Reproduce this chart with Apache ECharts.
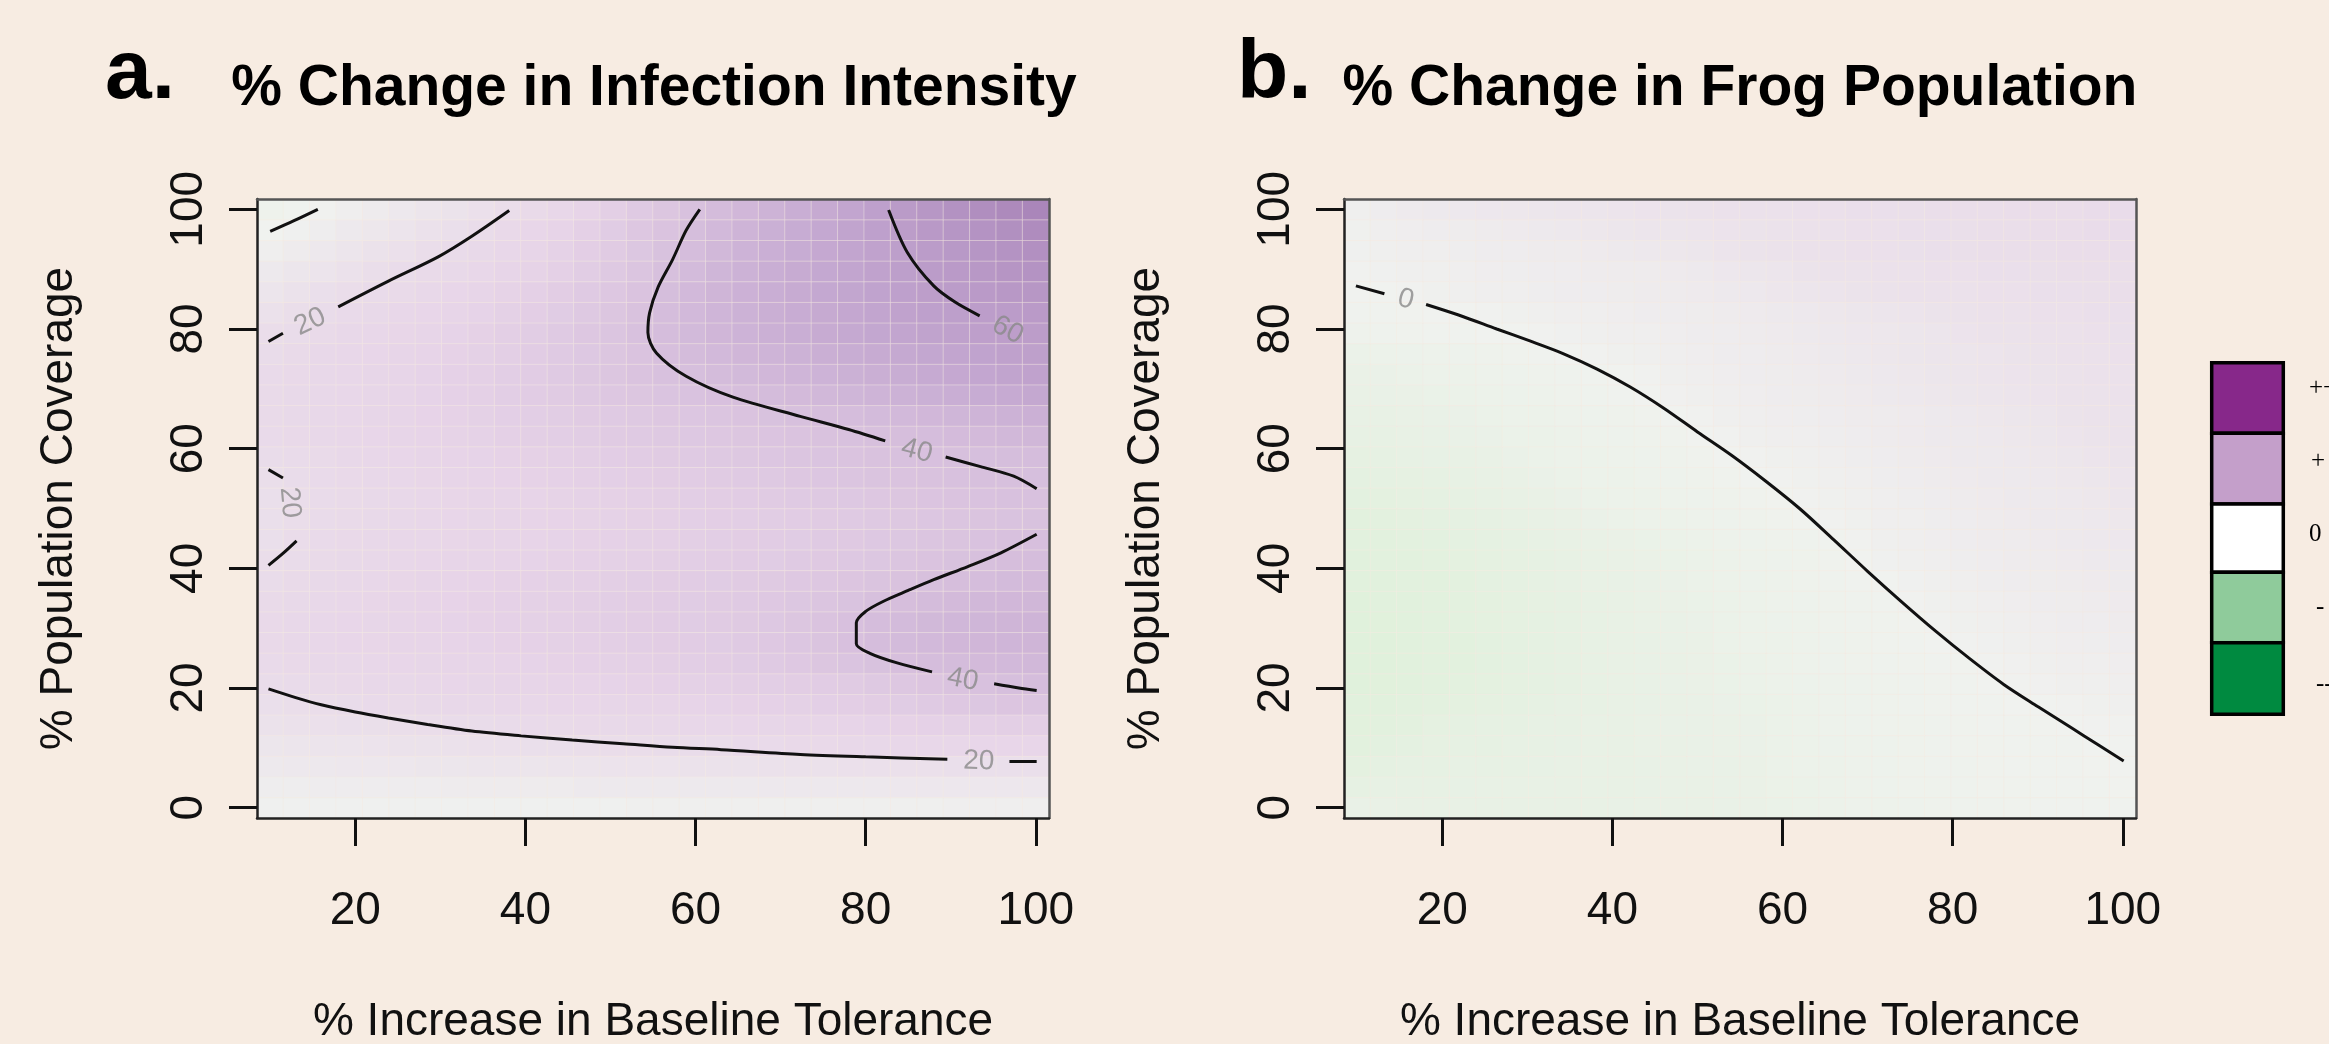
<!DOCTYPE html>
<html><head><meta charset="utf-8">
<script src="https://cdn.jsdelivr.net/npm/echarts@6.0.0/dist/echarts.min.js"></script>
<style>html,body{margin:0;padding:0;background:#f7ece2;}#c{width:2329px;height:1044px;}</style>
</head><body><div id="c"></div>
<script>
// ---------- DATA ----------
const xGrid = [10,13.1,16.2,19.3,22.4,25.5,28.6,31.7,34.8,37.9,41,44.1,47.2,50.3,53.4,56.6,59.7,62.8,65.9,69,72.1,75.2,78.3,81.4,84.5,87.6,90.7,93.8,96.9,100];
const yGrid = [0,3.4,6.9,10.3,13.8,17.2,20.7,24.1,27.6,31,34.5,37.9,41.4,44.8,48.3,51.7,55.2,58.6,62.1,65.5,69,72.4,75.9,79.3,82.8,86.2,89.7,93.1,96.6,100];
const xTicks = [20,40,60,80,100];
const yTicks = [0,20,40,60,80,100];

// % change in infection intensity, rows = yGrid (bottom to top), cols = xGrid
const infection = [
[2,2,2,2,2,2,2,2,2,2,2,2,2,2,3,3,3,3,3,3,3,3,3,3,3,3,4,4,4,4],
[5,5,6,6,6,6,6,7,7,7,7,7,8,8,8,8,8,8,8,9,9,9,9,9,10,10,10,10,10,10],
[8,9,9,10,10,10,11,11,12,12,12,13,13,14,14,14,15,15,15,16,16,16,17,17,17,17,18,18,18,18],
[11,12,13,13,14,15,15,16,17,17,18,18,19,19.3,19.8,20.4,21,21,22,22,23,23,24,24,25,25,25,26,26,26],
[14.5,15.4,16.4,17.3,18.1,18.9,19.7,20.3,21,21.5,22,22.5,23,23.5,24,24.5,25,25.5,26,26.5,27,27.5,28,28.5,29,29.5,30,30.5,31,31],
[17.6,18.7,20,21,22,22.8,23.5,24,24.5,25,25.3,25.7,26,26.5,27,27.5,28,28.5,29,29.5,30,30.7,31.3,32,33,34,35,36,36.7,37],
[20.5,21.5,22.5,23.3,24,24.7,25.3,26,26.5,27,27.3,27.7,28,28.5,29,29.5,30,30.5,31,31.5,32,32.7,33.5,34.5,35.5,36.7,38,39.5,40.6,41.5],
[22,23,24,24.7,25.3,26,26.5,27,27.5,28,28.5,29,29.5,30,30.5,31,31.5,32,33,34,35,36.5,37.5,39,40.3,41.5,42.5,43.5,44,44.5],
[23,24,25,25.7,26.3,27,27.5,28,28.5,29,29.5,30,30.5,31,31.5,32,32.5,33,34,35,36.3,37.7,39.7,41.5,43,44,45,45.7,46.3,46.5],
[23,24,25,26,26.5,27.2,28,28.5,29,29.5,30,30.5,31,31.5,32,32.5,33,33.5,34.2,35.2,36.5,38,39.7,41.5,43,44.3,45.2,46,46.5,47],
[22.5,23.5,24.5,25.5,26.3,27,27.7,28.3,29,29.5,30,30.5,31,31.5,32,32.5,33,33.5,34,35,36,37,38.3,39.8,41.2,42.5,43.5,44.5,45,45.5],
[21,22.5,23.5,24.5,25.5,26.3,27,27.7,28.3,29,29.5,30,30.5,31,31.5,32,32.5,33,33.5,34.2,35,35.8,36.7,37.7,38.8,40,41,42,43,43.5],
[19.5,21,22.5,23.5,24.5,25.3,26,26.7,27.3,28,28.5,29,29.5,30,30.5,31,31.5,32,32.5,33,33.7,34.4,35.2,36,37,38,39,40,41,41.8],
[18,20.2,22,23,24,24.8,25.5,26.2,26.8,27.4,28,28.5,29,29.5,30,30.5,31,31.5,32,32.5,33,33.7,34.4,35.2,36,37,37.8,38.6,39.5,40.3],
[17.5,19.7,21.5,22.7,23.7,24.5,25.2,26,26.6,27.2,27.8,28.3,28.8,29.3,29.8,30.3,30.8,31.3,31.8,32.3,32.8,33.4,34,34.7,35.4,36.2,37,37.6,38.3,39],
[17.5,19.7,21.5,22.8,23.8,24.7,25.5,26.2,26.9,27.5,28.1,28.7,29.2,29.8,30.3,30.9,31.5,32.1,32.7,33.3,33.9,34.5,35.2,35.9,36.6,37.3,38,38.6,39.2,39.6],
[18.5,20.3,22,23.3,24.4,25.3,26.1,26.9,27.6,28.3,29,29.6,30.2,30.8,31.4,32,32.7,33.4,34.1,34.8,35.5,36.2,36.9,37.6,38.2,38.8,39.3,39.8,40.1,40.5],
[20.5,21.5,22.8,24,25,26,26.8,27.6,28.4,29.1,29.8,30.5,31.2,31.9,32.6,33.3,34,34.7,35.4,36.1,36.8,37.5,38.1,38.7,39.2,39.7,40.2,40.7,41.3,42],
[22,23,24,25,26,27,27.8,28.6,29.4,30.2,31,31.7,32.4,33.1,33.8,34.5,35.2,35.9,36.6,37.3,38,38.7,39.4,40.2,41,41.8,42.6,43.5,44.5,45.5],
[22.5,23.5,24.5,25.5,26.5,27.5,28.3,29.1,30,30.8,31.6,32.4,33.2,34,34.8,35.6,36.4,37.2,38,39,40,41,42,43,44,45,46,47.2,48.4,49.5],
[22.5,23.5,24.5,25.5,26.5,27.5,28.5,29.5,30.5,31.5,32.5,33.5,34.5,35.5,36.5,37.5,38.5,39.7,41,42.2,43.5,44.8,46,47.2,48.4,49.6,50.8,52,53.2,54.4],
[22,23,24.5,25.5,26.5,27.5,28.5,29.5,30.5,31.5,32.7,34,35.3,36.6,37.9,39.2,40.7,42.2,43.6,45,46.3,47.6,48.9,50.2,51.5,52.8,54,55.2,56.4,57.5],
[21,22.5,24,25,26,27,28,29,30,31.2,32.5,33.8,35.2,36.6,38.2,40.3,42.2,44,45.6,47.1,48.5,49.9,51.2,52.5,53.8,55,56.1,57.1,58,58.8],
[19.5,21,22.5,24,25.2,26.3,27.4,28.5,29.7,31,32.4,33.9,35.5,37.2,39.2,41.5,43.7,45.7,47.5,49.2,50.8,52.3,53.7,55,56.2,57.3,58.2,59,59.7,60.4],
[16,18.5,20.3,22,23.5,24.8,26,27.2,28.5,29.9,31.4,33,34.7,36.6,38.9,41.6,44,46.2,48.2,50,51.7,53.3,54.8,56.2,57.4,58.5,59.4,60.2,61,61.8],
[12,15,17.3,19.4,21.2,22.8,24.3,25.7,27.2,28.7,30.3,32,33.8,35.8,38.2,41.3,44,46.5,48.7,50.7,52.5,54.2,55.7,57.1,58.4,59.6,60.7,61.7,62.7,63.6],
[8,11,13.5,16,18.3,20.3,22.1,23.8,25.4,27,28.7,30.5,32.4,34.5,37,40,43,45.8,48.3,50.5,52.5,54.3,56,57.6,59.1,60.5,61.8,63,64.2,65.3],
[4,7,9.5,12,14.5,17,19.5,21.5,23.5,25.3,27.2,29.2,31.3,33.5,36,39,42,44.8,47.4,49.8,52,54,55.9,57.7,59.4,61,62.5,64,65.5,67],
[0,2,5,8,10.5,13,15.5,18,20.8,23.3,25.7,28,30.5,33,35.5,38.2,41.3,44.2,47,49.6,52,54.3,56.5,58.6,60.4,62.2,64,65.7,67.3,69],
[-3,-1.3,0.5,3.5,6.3,9,11.7,14.4,17,19.9,22.7,25.5,28.2,31,33.8,36.6,39.4,42.2,45,47.8,50.6,53.3,56,58.7,61.2,63.6,66,68.3,70.5,72.5]
];

// % change in frog population, rows = yGrid (bottom to top), cols = xGrid
const frogs = [
[-6,-6.5,-6.8,-6.9,-7,-7,-7,-7,-6.9,-6.8,-6.7,-6.5,-6.3,-6.1,-5.8,-5.5,-4.8,-4.1,-3.5,-3,-2.6,-2.2,-1.9,-1.6,-1.4,-1.2,-1,-0.8,-0.6,-0.5],
[-8.5,-8,-7.8,-7.6,-7.4,-7.3,-7.2,-7.1,-7,-6.9,-6.8,-6.6,-6.4,-6.1,-5.8,-5.5,-4.7,-4,-3.4,-2.9,-2.5,-2.1,-1.8,-1.5,-1.3,-1.1,-0.9,-0.7,-0.5,-0.4],
[-10.8,-9.4,-8.8,-8.4,-8.1,-7.9,-7.7,-7.5,-7.3,-7.1,-6.9,-6.6,-6.3,-6,-5.7,-5.4,-4.6,-3.9,-3.3,-2.8,-2.4,-2,-1.7,-1.4,-1.2,-1,-0.8,-0.6,-0.4,-0.2],
[-11.8,-11,-10.2,-9,-8.6,-8.3,-8,-7.7,-7.4,-7.1,-6.8,-6.5,-6.2,-5.9,-5.6,-5.3,-4.5,-3.8,-3.2,-2.7,-2.3,-1.9,-1.6,-1.3,-1.1,-0.9,-0.7,-0.5,-0.2,0.3],
[-12.6,-12.1,-11.3,-9.8,-9.2,-8.8,-8.4,-8,-7.6,-7.2,-6.8,-6.4,-6,-5.7,-5.4,-5.1,-4.3,-3.6,-3,-2.5,-2.1,-1.8,-1.5,-1.2,-0.9,-0.7,-0.4,-0.05,0.5,1],
[-13.2,-12.9,-12.4,-11.6,-10.6,-9.8,-9.2,-8.7,-8.2,-7.7,-7.2,-6.7,-6.2,-5.8,-5.3,-4.8,-4,-3.3,-2.8,-2.3,-1.9,-1.6,-1.3,-1,-0.7,-0.3,0.3,0.9,1.5,2],
[-13.6,-13.3,-12.9,-12.3,-11.6,-10.8,-10,-9.2,-8.5,-7.8,-7.2,-6.6,-6,-5.5,-5,-4.3,-3.6,-3.1,-2.6,-2.2,-1.8,-1.4,-1.1,-0.7,-0.3,0.4,1.1,1.7,2.2,2.6],
[-13.8,-13.5,-13.1,-12.5,-11.8,-10.9,-10.1,-9.3,-8.6,-7.9,-7.3,-6.7,-6.1,-5.5,-4.8,-4.1,-3.5,-3,-2.5,-2,-1.6,-1.2,-0.8,-0.4,0.4,1.1,1.8,2.4,2.9,3.3],
[-13.8,-13.5,-13.1,-12.5,-11.8,-10.9,-10.1,-9.3,-8.6,-7.9,-7.2,-6.6,-6,-5.4,-4.6,-3.9,-3.3,-2.8,-2.3,-1.8,-1.3,-0.9,-0.3,0.6,1.4,2.1,2.7,3.2,3.6,4],
[-13.7,-13.4,-13,-12.4,-11.7,-10.8,-10,-9.2,-8.5,-7.8,-7.1,-6.5,-5.9,-5.2,-4.4,-3.7,-3.1,-2.6,-2.1,-1.6,-1.1,-0.4,0.7,1.5,2.2,2.8,3.3,3.7,4.1,4.5],
[-13.5,-13.2,-12.8,-12.2,-11.5,-10.6,-9.8,-9,-8.3,-7.6,-6.9,-6.2,-5.6,-5,-4.2,-3.5,-2.9,-2.4,-1.9,-1.4,-0.6,0.6,1.5,2.2,2.8,3.3,3.8,4.3,4.8,5.2],
[-13.2,-12.9,-12.4,-11.9,-11.2,-10.3,-9.5,-8.7,-8,-7.3,-6.6,-5.9,-5.2,-4.5,-3.8,-3.2,-2.6,-2.1,-1.6,-0.9,0.3,1.3,2.1,2.8,3.4,3.9,4.3,4.7,5.2,5.6],
[-12.8,-12.5,-12,-11.5,-10.8,-9.9,-9.1,-8.3,-7.6,-6.9,-6.2,-5.5,-4.8,-4.1,-3.5,-2.9,-2.4,-1.8,-1.1,0.1,1.2,2.1,2.8,3.4,3.9,4.4,4.8,5.3,5.8,6.3],
[-12.4,-12,-11.5,-10.9,-10.2,-9.4,-8.6,-7.8,-7,-6.3,-5.6,-4.9,-4.2,-3.6,-3,-2.5,-2,-1.4,-0.5,0.8,1.8,2.6,3.3,3.9,4.4,4.9,5.4,5.9,6.4,7],
[-11.8,-11.3,-10.7,-10.1,-9.4,-8.6,-7.8,-7,-6.2,-5.2,-4.5,-3.9,-3.3,-2.8,-2.3,-1.8,-1.2,-0.4,0.7,1.6,2.4,3,3.6,4.2,4.8,5.3,5.8,6.3,6.9,7.6],
[-11,-10.5,-9.9,-9.2,-8.5,-7.8,-7,-6.2,-5.2,-4.4,-3.8,-3.3,-2.8,-2.3,-1.8,-1.2,-0.4,0.6,1.5,2.3,2.9,3.5,4.1,4.7,5.3,5.8,6.3,6.9,7.6,8.4],
[-10.2,-9.6,-9,-8.4,-7.7,-7,-6.2,-5.1,-4.4,-3.8,-3.3,-2.8,-2.3,-1.8,-1.2,-0.1,0.8,1.6,2.3,2.9,3.4,4,4.6,5.2,5.7,6.2,6.8,7.5,8.3,9.2],
[-9,-8.5,-8,-7.4,-6.8,-6.1,-5.2,-4.5,-3.9,-3.4,-2.9,-2.4,-1.9,-1.2,-0.2,0.8,1.6,2.3,2.9,3.4,3.9,4.5,5.2,5.7,6.2,6.8,7.5,8.3,9.3,10.2],
[-8,-7.6,-7.1,-6.6,-6,-5.3,-4.6,-4,-3.5,-3,-2.5,-2,-1.3,-0.1,0.9,1.7,2.4,3,3.5,4,4.6,5.2,5.7,6.2,6.8,7.5,8.3,9.2,10.2,10.6],
[-7.2,-6.8,-6.3,-5.7,-5.1,-4.5,-3.9,-3.4,-2.9,-2.4,-1.9,-1.2,-0.1,0.9,1.8,2.5,3.1,3.6,4.1,4.5,4.9,5.4,6,6.7,7.4,8.2,9,10.1,10.5,10.9],
[-6.4,-6,-5.4,-4.8,-4.2,-3.6,-3.1,-2.6,-2.1,-1.6,-0.9,0.2,1.1,1.9,2.6,3.2,3.8,4.3,4.8,5.2,5.8,6.5,7.2,7.9,8.6,9.3,10,10.4,10.8,11.2],
[-5.6,-5.1,-4.5,-3.9,-3.4,-2.9,-2.4,-1.9,-1.4,-0.7,0.2,1,1.8,2.5,3.1,3.7,4.3,4.9,5.5,6.1,6.7,7.3,7.9,8.5,9.1,9.7,10.2,10.6,11,11.4],
[-4.3,-3.8,-3.2,-2.7,-2.2,-1.8,-1.3,-0.7,0.1,0.8,1.5,2.1,2.7,3.2,3.7,4.2,4.8,5.4,6,6.6,7.2,7.8,8.4,9,9.6,10.2,10.7,11.1,11.5,11.9],
[-1.8,-1.5,-1.2,-0.9,-0.6,-0.3,0.1,0.7,1.3,1.9,2.4,2.9,3.3,3.7,4.1,4.6,5.2,5.8,6.4,7,7.6,8.2,8.9,9.8,10.4,10.8,11.2,11.6,12,12.3],
[-1,-0.7,-0.4,-0.1,0.3,0.9,1.5,2,2.5,2.9,3.3,3.7,4,4.3,4.7,5.3,6,6.7,7.4,8,8.7,9.4,10.1,10.6,11,11.4,11.8,12.1,12.4,12.7],
[-0.3,0.3,1,1.6,2.1,2.6,3,3.4,3.7,4,4.3,4.6,4.9,5.3,6,6.8,7.7,8.6,9.6,10.3,10.7,11,11.3,11.6,11.9,12.2,12.5,12.8,13,13.2],
[0.5,1.2,1.7,2.2,2.7,3.1,3.5,3.8,4.1,4.4,4.6,4.8,5.3,6,7,8,9,10.1,10.5,10.9,11.2,11.5,11.8,12.1,12.4,12.7,13,13.2,13.4,13.6],
[1.2,1.8,2.4,2.9,3.4,3.8,4.2,4.5,4.8,5.2,5.8,6.5,7.3,8.2,9.3,10.2,10.6,11,11.4,11.7,12,12.3,12.6,12.9,13.2,13.4,13.6,13.8,14,14.3],
[1.5,2.5,3.2,3.8,4.3,4.8,5.3,6,6.7,7.3,7.9,8.5,9,9.5,9.9,10.3,10.7,11.1,11.5,11.8,12.1,12.4,12.7,13,13.3,13.6,13.9,14.2,14.5,14.8],
[2,4,5.5,6,6.5,7,7.5,8,8.5,9,9.5,9.8,10.3,10.6,11,11.3,11.6,11.9,12.2,12.5,12.8,13,13.2,13.4,13.6,13.8,14,14.3,14.6,15]
];

// contour lines (data coordinates: x, y)
const infContours = [
  [[10,96.3],[12.8,98.1],[15.6,100]],
  [[9.8,77.9],[11.5,79.3]],
  [[18,83.7],[23.9,88],[29.8,92.1],[33.7,95.5],[38.1,99.8]],
  [[9.8,40.5],[11.5,42.5],[13.1,44.6]],
  [[11.5,55.1],[9.8,56.5]],
  [[9.8,19.85],[13,18.4],[16,17.2],[20,16],[23.9,15],[28.5,13.9],[33.7,12.8],[39.5,12],[45.5,11.3],[51.5,10.7],[57.3,10.1],[63,9.7],[72.3,8.9],[80,8.5],[89.6,8.1]],
  [[96.9,7.7],[100.1,7.7]],
  [[60.5,100],[58.9,96.5],[57.3,91.6],[55.6,87],[54.6,82.7],[54.4,79.4],[55.4,76],[58.9,72.1],[64.4,68.6],[72.3,65.4],[78,63.2],[82.3,61.3]],
  [[89.4,58.6],[93.5,57],[97.4,55.4],[100.1,53.3]],
  [[82.7,99.9],[84.9,92.8],[88,87.2],[90.5,84.5],[93.4,82.2]],
  [[100.1,45.7],[95.9,42.6],[92,40.3],[88,38.1],[85,36.3],[82.1,34.5],[80,32.8],[78.9,30.9],[78.9,27.4],[80.5,25.8],[83.7,24.2],[87.8,22.7]],
  [[95.1,20.7],[98,20],[100.1,19.6]]
];
const infLabels = [
  {x:14.7, y:81.2, text:'20'}, {x:12.3, y:51, text:'20'}, {x:93.3, y:7.75, text:'20'},
  {x:86.0, y:59.6, text:'40'}, {x:91.4, y:21.4, text:'40'}, {x:96.7, y:79.8, text:'60'}
];
const frogContours = [
  [[9.85,87.2],[13.2,85.9]],
  [[18.1,84.1],[22,82.3],[26.4,80],[30.3,78],[34.2,75.9],[38.2,73.3],[42.1,70.3],[46,66.8],[50,62.8],[54,58.9],[58,54.6],[62,50],[66,44.8],[70,39.5],[74,34.4],[78,29.5],[82,24.9],[86,20.6],[90,16.9],[94,13.3],[97,10.6],[100.1,7.8]]
];
const frogLabels = [{x:15.7, y:84.9, text:'0'}];

const legendLabels = ['++','+','0','-','--'];

// ---------- STYLE / BUILD ----------
const FONT = '"Liberation Sans", Arial, Helvetica, sans-serif';
const infAngles = [25, -85, -2, -15, -11, -28];
const frogAngles = [-15];
const legendColors = ['#87288a','#c49fca','#ffffff','#8fcb9b','#008a40'];
const PRGN = ['#00441b','#1b7837','#5aae61','#a6dba0','#d9f0d3','#f0f2ef','#e7d4e8','#c2a5cf','#9970ab','#762a83','#40004b'];

function heat(rows){ const d=[]; rows.forEach((r,j)=>r.forEach((v,i)=>d.push([i,j,v]))); return d; }

const XMIN=8.45, XMAX=101.55, YMIN=-1.724, YMAX=101.724;
const grids = [
  {left:257, top:199, width:792, height:619},
  {left:1344, top:199, width:792, height:619}
];
const xAxes=[], yAxes=[];
grids.forEach((g,gi)=>{
  xAxes.push({type:'category', gridIndex:gi, data:xGrid.map(String), show:false, position:'bottom'});
  xAxes.push({type:'value', gridIndex:gi, min:XMIN, max:XMAX, position:'bottom', z:10,
    axisLine:{show:true, onZero:false, lineStyle:{color:'#222', width:2.5}},
    axisTick:{show:true, length:28, customValues:xTicks, lineStyle:{color:'#111', width:3}},
    axisLabel:{show:true, customValues:xTicks, margin:70, fontSize:46, color:'#111', fontFamily:FONT},
    splitLine:{show:false},
    name:'% Increase in Baseline Tolerance', nameLocation:'middle', nameGap:181,
    nameTextStyle:{fontSize:46, color:'#111', fontFamily:FONT}});
  xAxes.push({type:'value', gridIndex:gi, min:XMIN, max:XMAX, position:'top', z:10,
    axisLine:{show:true, onZero:false, lineStyle:{color:'#555', width:2.5}},
    axisTick:{show:false}, axisLabel:{show:false}, splitLine:{show:false}});
  yAxes.push({type:'category', gridIndex:gi, data:yGrid.map(String), show:false, position:'left'});
  yAxes.push({type:'value', gridIndex:gi, min:YMIN, max:YMAX, position:'left', z:10,
    axisLine:{show:true, onZero:false, lineStyle:{color:'#222', width:2.5}},
    axisTick:{show:true, length:28, customValues:yTicks, lineStyle:{color:'#111', width:3}},
    axisLabel:{show:true, customValues:yTicks, rotate:90, margin:45, fontSize:46, color:'#111', fontFamily:FONT},
    splitLine:{show:false},
    name:'% Population Coverage', nameLocation:'middle', nameGap:175, nameRotate:90,
    nameTextStyle:{fontSize:46, color:'#111', fontFamily:FONT}});
  yAxes.push({type:'value', gridIndex:gi, min:YMIN, max:YMAX, position:'right', z:10,
    axisLine:{show:true, onZero:false, lineStyle:{color:'#555', width:2.5}},
    axisTick:{show:false}, axisLabel:{show:false}, splitLine:{show:false}});
});

const series = [];
[infection, frogs].forEach((rows,gi)=>{
  series.push({type:'heatmap', xAxisIndex:gi*3, yAxisIndex:gi*3, data:heat(rows), progressive:0,
    itemStyle:{borderColor:'rgba(247,236,226,0.45)', borderWidth:1}, emphasis:{disabled:true}, z:1});
});
function addContours(lines, labels, angles, gi){
  lines.forEach(l=>series.push({type:'line', xAxisIndex:gi*3+1, yAxisIndex:gi*3+1, data:l, showSymbol:false,
    smooth:0.3, lineStyle:{color:'#111', width:3}, silent:true, z:5}));
  series.push({type:'scatter', xAxisIndex:gi*3+1, yAxisIndex:gi*3+1, symbolSize:0, silent:true, z:6,
    data:labels.map((o,k)=>({value:[o.x,o.y], name:o.text,
      label:{show:true, position:'inside', formatter:o.text, rotate:angles[k], fontSize:28, color:'#8a8a8a', fontFamily:FONT}}))});
}
addContours(infContours, infLabels, infAngles, 0);
addContours(frogContours, frogLabels, frogAngles, 1);

const graphics = [];
const tStyle = (text,x,y,font,align)=>({type:'text', x:x, y:y, style:{text:text, font:font, fill:'#000',
  textAlign:align, textVerticalAlign:'middle', align:align, verticalAlign:'middle'}});
graphics.push(tStyle('a.', 105, 75, 'bold 84px '+FONT, 'left'));
graphics.push(tStyle('% Change in Infection Intensity', 654, 89, 'bold 57px '+FONT, 'center'));
graphics.push(tStyle('b.', 1237, 75, 'bold 84px '+FONT, 'left'));
graphics.push(tStyle('% Change in Frog Population', 1740, 89, 'bold 57px '+FONT, 'center'));
const legTop=[362.7,433.3,504,572.3,642.7,714.3];
const legLabY=[388,461,534,607,684];
const legLabX=[2309,2311,2309,2316,2316];
legendColors.forEach((c,k)=>{
  graphics.push({type:'rect', shape:{x:2211.7, y:legTop[k], width:71.6, height:legTop[k+1]-legTop[k]},
    style:{fill:c, stroke:'#000', lineWidth:3.5}});
  graphics.push(tStyle(legendLabels[k], legLabX[k], legLabY[k], '25px "Liberation Serif", "Times New Roman", serif', 'left'));
});

const chart = echarts.init(document.getElementById('c'), null, {renderer:'canvas'});
chart.setOption({
  backgroundColor:'#f7ece2',
  animation:false,
  grid: grids.map(g=>Object.assign({containLabel:false, outerBoundsMode:'none', show:false}, g)),
  xAxis: xAxes, yAxis: yAxes,
  visualMap:[
    {type:'continuous', show:false, min:-140, max:140, seriesIndex:[0], inRange:{color:PRGN}},
    {type:'continuous', show:false, min:-100, max:100, seriesIndex:[1], inRange:{color:PRGN}}
  ],
  series: series,
  graphic: graphics
});
</script></body></html>
